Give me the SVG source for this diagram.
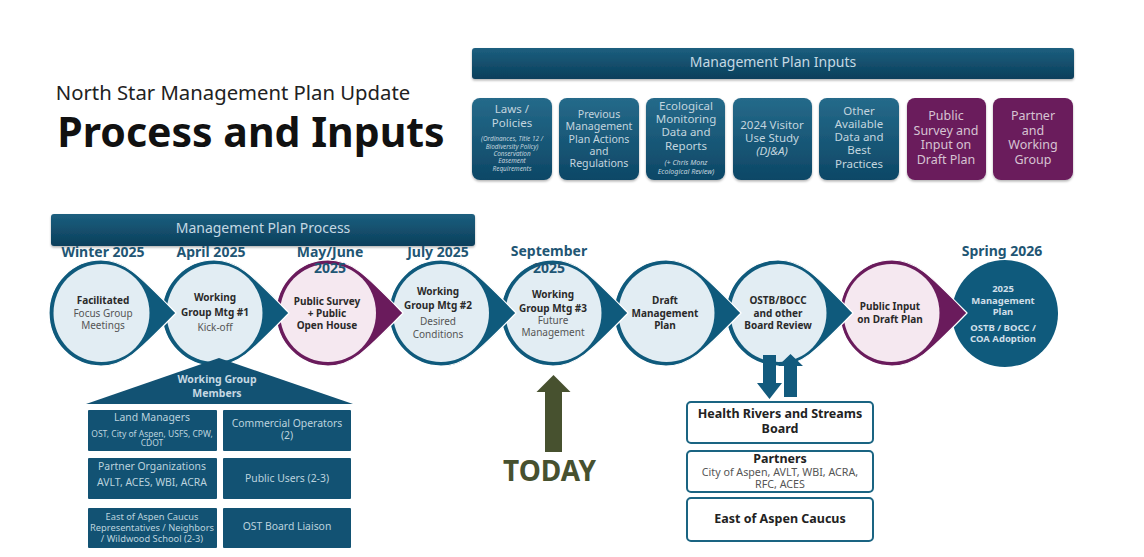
<svg xmlns="http://www.w3.org/2000/svg" width="1144" height="557" viewBox="0 0 1144 557">
<style>
text{font-family:"Noto Sans","Open Sans","Liberation Sans",sans-serif;text-anchor:middle}
.banner{fill:url(#bar);filter:url(#sh)}
.bt{fill:#c4d9e4;font-size:14px}
.in{fill:url(#blue);filter:url(#sh)}
.ip{fill:#6a1b5c;filter:url(#sh)}
.it{fill:#c3d5df;font-size:11.5px}
.it2{fill:#c3d5df;font-size:10.6px}
.pt{fill:#d6c3d3;font-size:12.5px}
.sm{fill:#c3d5df;font-size:6.4px;font-style:italic}
.sm2{fill:#c3d5df;font-size:7.1px;font-style:italic}
.date{fill:#1f5674;font-size:14px;font-weight:700}
.b{fill:#2a2a2a;font-size:10px;font-weight:700}
.g{fill:#555;font-size:10px}
.w{fill:#cfdfe8;font-size:9.5px;font-weight:700}
.tb{fill:#0f5a7c;stroke:#fff;stroke-width:1.2}
.tp{fill:#6a1b5c;stroke:#fff;stroke-width:1.2}
.pale{fill:#e2edf3}
.pink{fill:#f5e8f0}
.wb{fill:#125273}
.wt{fill:#bcd2de;font-size:10.4px}
.ws{fill:#bcd2de;font-size:8.500px}
.ws2{fill:#bcd2de;font-size:9.3px}
.ob{fill:#fff;stroke:#1a6482;stroke-width:2}
.obt{fill:#222;font-size:12.5px;font-weight:700}
.obs{fill:#555;font-size:10.7px}
</style>
<defs>
<linearGradient id="bar" x1="0" y1="0" x2="0" y2="1"><stop offset="0" stop-color="#1c5f7f"/><stop offset="1" stop-color="#0b3f5b"/></linearGradient>
<linearGradient id="blue" x1="0" y1="0" x2="0" y2="1"><stop offset="0" stop-color="#256a8a"/><stop offset="1" stop-color="#0d4766"/></linearGradient>
<filter id="sh" x="-5%" y="-10%" width="110%" height="125%"><feDropShadow dx="0" dy="1.5" stdDeviation="1.2" flood-color="#000" flood-opacity="0.3"/></filter>
<path id="tear" d="M0-53C24-53 38-38 75 0C38 38 24 53 0 53A52 53 0 0 1 0-53Z"/>
<path id="up" d="M0 0L17 17H8.500V77H-8.500V17H-17Z"/>
</defs>
<rect width="1144" height="557" fill="#fff"/>
<g id="title">
<text x="233" y="100" font-size="20.300" fill="#222">North Star Management Plan Update</text>
<text x="251" y="147" font-size="41" font-weight="700" fill="#111">Process and Inputs</text>
</g>
<g id="inputs-banner"><rect class="banner" x="472" y="48" width="602" height="31" rx="3"/><text class="bt" x="773" y="67">Management Plan Inputs</text></g>
<g id="input-laws"><rect class="in" x="472" y="98" width="80" height="82" rx="8"/>
<text class="it" x="512" y="113">Laws /</text><text class="it" x="512" y="127">Policies</text>
<text class="sm" x="512" y="141">(Ordinances, Title 12 /</text><text class="sm" x="512" y="148.500">Biodiversity Policy)</text><text class="sm" x="512" y="156">Conservation</text><text class="sm" x="512" y="163">Easement</text><text class="sm" x="512" y="171">Requirements</text></g>
<g id="input-previous"><rect class="in" x="559" y="98" width="80" height="82" rx="8"/>
<text class="it2" x="599" y="118">Previous</text><text class="it2" x="599" y="130">Management</text><text class="it2" x="599" y="142.500">Plan Actions</text><text class="it2" x="599" y="155">and</text><text class="it2" x="599" y="167">Regulations</text></g>
<g id="input-ecological"><rect class="in" x="646" y="98" width="79" height="82" rx="8"/>
<text class="it" x="686" y="110">Ecological</text><text class="it" x="686" y="123">Monitoring</text><text class="it" x="686" y="136">Data and</text><text class="it" x="686" y="150">Reports</text>
<text class="sm2" x="686" y="165">(+ Chris Monz</text><text class="sm2" x="686" y="174">Ecological Review)</text></g>
<g id="input-visitor"><rect class="in" x="733" y="98" width="79" height="82" rx="8"/>
<text class="it" x="772" y="129">2024 Visitor</text><text class="it" x="772" y="142">Use Study</text><text class="it" x="772" y="155" font-style="italic">(DJ&amp;A)</text></g>
<g id="input-other"><rect class="in" x="819" y="98" width="80" height="82" rx="8"/>
<text class="it" x="859" y="115">Other</text><text class="it" x="859" y="128">Available</text><text class="it" x="859" y="141">Data and</text><text class="it" x="859" y="154">Best</text><text class="it" x="859" y="168">Practices</text></g>
<g id="input-survey"><rect class="ip" x="907" y="98" width="79" height="82" rx="8"/>
<text class="pt" x="946" y="120">Public</text><text class="pt" x="946" y="135">Survey and</text><text class="pt" x="946" y="149">Input on</text><text class="pt" x="946" y="164">Draft Plan</text></g>
<g id="input-partner"><rect class="ip" x="993" y="98" width="80" height="82" rx="8"/>
<text class="pt" x="1033" y="120">Partner</text><text class="pt" x="1033" y="135">and</text><text class="pt" x="1033" y="149">Working</text><text class="pt" x="1033" y="164">Group</text></g>

<g id="node-adoption"><ellipse cx="1005" cy="313.500" rx="53" ry="53.500" fill="#0f5a7c"/>
<text class="w" x="1003" y="292">2025</text><text class="w" x="1003" y="304">Management</text><text class="w" x="1003" y="315">Plan</text><text class="w" x="1003" y="331">OSTB / BOCC /</text><text class="w" x="1003" y="342">COA Adoption</text></g>
<g id="node-public-input"><use href="#tear" class="tp" x="892" y="313"/><ellipse class="pink" cx="891.500" cy="313" rx="48" ry="49"/>
<text class="b" x="890" y="310">Public Input</text><text class="b" x="890" y="323">on Draft Plan</text></g>
<g id="node-board"><use href="#tear" class="tb" x="778" y="313"/><ellipse class="pale" cx="778.500" cy="313" rx="48" ry="49"/>
<text class="b" x="778" y="304">OSTB/BOCC</text><text class="b" x="778" y="317">and other</text><text class="b" x="778" y="329">Board Review</text></g>
<g id="node-draft"><use href="#tear" class="tb" x="666" y="313"/><ellipse class="pale" cx="666.500" cy="313" rx="48" ry="49"/>
<text class="b" x="665" y="304">Draft</text><text class="b" x="665" y="317">Management</text><text class="b" x="665" y="329">Plan</text></g>
<g id="node-wg3"><use href="#tear" class="tb" x="553" y="313"/><ellipse class="pale" cx="553.500" cy="313" rx="48" ry="49"/>
<text class="b" x="553" y="298">Working</text><text class="b" x="553" y="312">Group Mtg #3</text><text class="g" x="553" y="324">Future</text><text class="g" x="553" y="336">Management</text></g>
<g id="node-wg2"><use href="#tear" class="tb" x="441" y="313"/><ellipse class="pale" cx="441" cy="313" rx="48" ry="49"/>
<text class="b" x="438" y="295">Working</text><text class="b" x="438" y="309">Group Mtg #2</text><text class="g" x="438" y="325">Desired</text><text class="g" x="438" y="338">Conditions</text></g>
<g id="node-survey"><use href="#tear" class="tp" x="328" y="313"/><ellipse class="pink" cx="328" cy="313" rx="48" ry="49"/>
<text class="b" x="327" y="305">Public Survey</text><text class="b" x="327" y="317">+ Public</text><text class="b" x="327" y="329">Open House</text></g>
<g id="node-wg1"><use href="#tear" class="tb" x="214" y="313"/><ellipse class="pale" cx="214.500" cy="313" rx="48" ry="49"/>
<text class="b" x="215" y="301">Working</text><text class="b" x="215" y="316">Group Mtg #1</text><text class="g" x="215" y="331">Kick-off</text></g>
<g id="node-focus"><use href="#tear" class="tb" x="101" y="313"/><ellipse class="pale" cx="101.500" cy="313" rx="48" ry="49"/>
<text class="b" x="103" y="304">Facilitated</text><text class="g" x="103" y="317">Focus Group</text><text class="g" x="103" y="329">Meetings</text></g>

<g id="process-banner"><rect class="banner" x="51" y="214" width="424" height="32" rx="3"/><text class="bt" x="263" y="233">Management Plan Process</text></g>
<g id="dates">
<text class="date" x="103" y="257">Winter 2025</text><text class="date" x="211" y="257">April 2025</text>
<text class="date" x="330" y="257">May/June</text><text class="date" x="330" y="273">2025</text>
<text class="date" x="438" y="257">July 2025</text>
<text class="date" x="549" y="256">September</text><text class="date" x="549" y="273">2025</text>
<text class="date" x="1002" y="256">Spring 2026</text>
</g>

<g id="wg-members"><path d="M219 358L353 404H86Z" fill="#125273"/>
<text x="217" y="383" font-size="10.500" font-weight="700" fill="#c6d9e3">Working Group</text><text x="217" y="397" font-size="10.500" font-weight="700" fill="#c6d9e3">Members</text></g>
<g id="wg-land"><rect class="wb" x="88" y="410" width="129" height="41" rx="1"/><text class="wt" x="152" y="421">Land Managers</text><text class="ws" x="152" y="437">OST, City of Aspen, USFS, CPW,</text><text class="ws" x="152" y="446">CDOT</text></g>
<g id="wg-commercial"><rect class="wb" x="223" y="410" width="128" height="41" rx="1"/><text class="wt" x="287" y="427">Commercial Operators</text><text class="wt" x="287" y="439">(2)</text></g>
<g id="wg-partner"><rect class="wb" x="88" y="458" width="129" height="41" rx="1"/><text class="wt" x="152" y="470">Partner Organizations</text><text class="wt" x="152" y="486" font-size="10.800">AVLT, ACES, WBI, ACRA</text></g>
<g id="wg-public"><rect class="wb" x="223" y="458" width="128" height="41" rx="1"/><text class="wt" x="287" y="482">Public Users (2-3)</text></g>
<g id="wg-east"><rect class="wb" x="88" y="508" width="129" height="40" rx="1"/><text class="ws2" x="152" y="520">East of Aspen Caucus</text><text class="ws2" x="152" y="531">Representatives / Neighbors</text><text class="ws2" x="152" y="542">/ Wildwood School (2-3)</text></g>
<g id="wg-liaison"><rect class="wb" x="223" y="508" width="128" height="40" rx="1"/><text class="wt" x="287" y="530">OST Board Liaison</text></g>

<g id="connectors">
<use href="#up" x="553.500" y="375" fill="#47512f"/>
<path d="M763 355H776V383H782L769.500 399L757 383H763Z" fill="#125a7d"/>
<path d="M784 397V366H778L790.500 354L803 366H797V397Z" fill="#125a7d"/>
</g>
<text id="today" x="549.500" y="481" font-size="28" font-weight="700" fill="#47512f">TODAY</text>

<g id="board-health"><rect class="ob" x="687" y="402" width="186" height="41" rx="4"/><text class="obt" x="780" y="418">Health Rivers and Streams</text><text class="obt" x="780" y="433">Board</text></g>
<g id="board-partners"><rect class="ob" x="687" y="451" width="186" height="41" rx="4"/><text class="obt" x="780" y="463">Partners</text><text class="obs" x="780" y="476">City of Aspen, AVLT, WBI, ACRA,</text><text class="obs" x="780" y="488">RFC, ACES</text></g>
<g id="board-east"><rect class="ob" x="687" y="498" width="186" height="43" rx="4"/><text class="obt" x="780" y="523">East of Aspen Caucus</text></g>
</svg>
